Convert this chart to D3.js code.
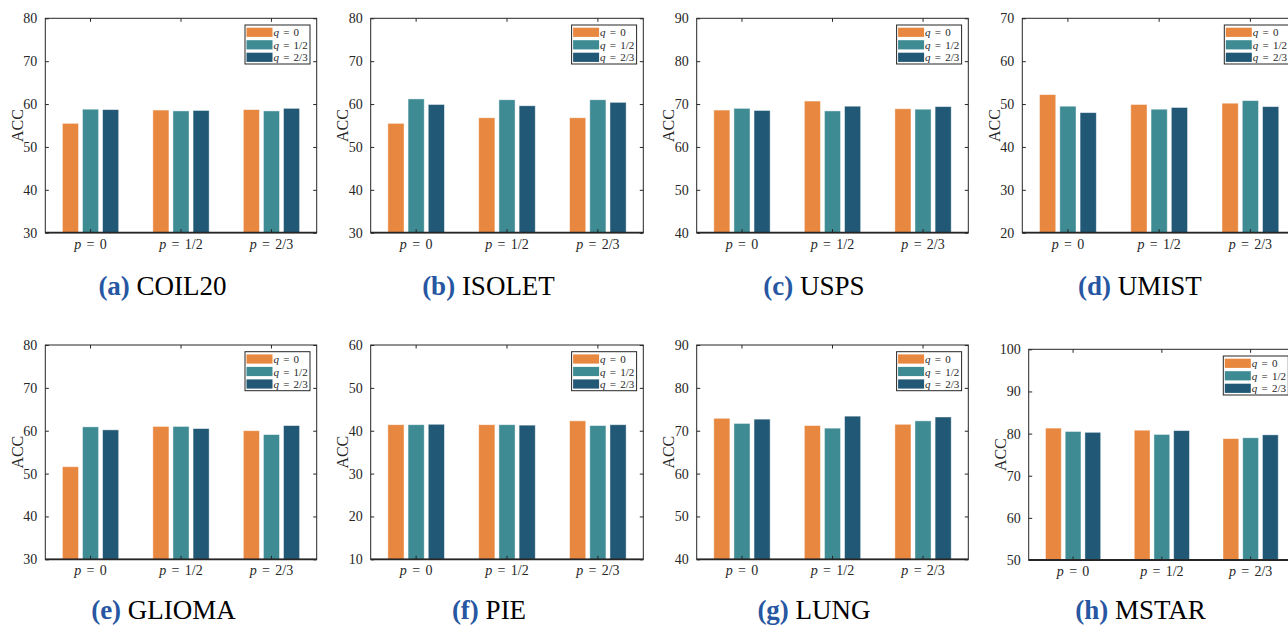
<!DOCTYPE html>
<html>
<head>
<meta charset="utf-8">
<script src="https://cdn.jsdelivr.net/npm/d3@7"></script>
<style>
  html, body { margin: 0; padding: 0; background: #fff; }
  svg { display: block; }
</style>
</head>
<body>
<svg id="fig" width="1288" height="625"></svg>
<script>
// Categories (p) and series (q)
const pLabels = ["0", "1/2", "2/3"];
const qLabels = ["0", "1/2", "2/3"];
const seriesColors = ["#E8873F", "#3E8B94", "#215876"];

// Dataset names and subfigure letters
const datasetNames = ["COIL20", "ISOLET", "USPS", "UMIST", "GLIOMA", "PIE", "LUNG", "MSTAR"];
const panelLetters = ["a", "b", "c", "d", "e", "f", "g", "h"];

// Y-axis ranges for each dataset
const yRanges = [[30, 80], [30, 80], [40, 90], [20, 70], [30, 80], [10, 60], [40, 90], [50, 100]];

// ACC values: one row per p, one column per q
const coil20 = [[55.5, 58.8, 58.7], [58.6, 58.4, 58.5], [58.7, 58.4, 59.0]];
const isolet = [[55.5, 61.2, 59.9], [56.8, 61.0, 59.6], [56.8, 61.0, 60.4]];
const usps   = [[68.6, 69.0, 68.5], [70.7, 68.4, 69.5], [68.9, 68.8, 69.4]];
const umist  = [[52.2, 49.5, 48.0], [49.9, 48.8, 49.2], [50.2, 50.8, 49.4]];
const glioma = [[51.6, 60.9, 60.2], [61.0, 61.0, 60.5], [60.0, 59.1, 61.2]];
const pie    = [[41.4, 41.4, 41.5], [41.4, 41.4, 41.3], [42.3, 41.2, 41.4]];
const lung   = [[72.9, 71.7, 72.7], [71.2, 70.6, 73.4], [71.5, 72.3, 73.2]];
const mstar  = [[81.3, 80.5, 80.3], [80.8, 79.8, 80.7], [78.8, 79.0, 79.7]];
const allValues = [coil20, isolet, usps, umist, glioma, pie, lung, mstar];

// Plot-frame placement for each subfigure (left, right, top, bottom, caption centre, caption baseline)
const frames = [
  { l: 45.3,   r: 316.7, t: 18.3,  b: 232.7, cx: 162.5,  cy: 295 },
  { l: 370.7,  r: 643.3, t: 18.3,  b: 232.7, cx: 488.5,  cy: 295 },
  { l: 696.7,  r: 968.3, t: 18.3,  b: 232.7, cx: 814,    cy: 295 },
  { l: 1022.3, r: 1296,  t: 18.3,  b: 232.7, cx: 1140,   cy: 295 },
  { l: 45.3,   r: 316.7, t: 345,   b: 559.3, cx: 163.5,  cy: 619 },
  { l: 370.7,  r: 643.3, t: 345,   b: 559.3, cx: 489,    cy: 619 },
  { l: 696.7,  r: 968.3, t: 345,   b: 559.3, cx: 814,    cy: 619 },
  { l: 1028.7, r: 1295,  t: 349.3, b: 560,   cx: 1140.5, cy: 619 }
];

const svg = d3.select("#fig");
const axisColor = "#262626";
const serif = "'Liberation Serif', 'Times New Roman', serif";

// Write "v = value" with an italic variable name
function mathLabel(sel, variable, value) {
  sel.append("tspan").attr("font-style", "italic").text(variable);
  sel.append("tspan").attr("dx", "0.38em").text("=");
  sel.append("tspan").attr("dx", "0.38em").text(value);
}

frames.forEach((f, i) => {
  const g = svg.append("g");
  const w = f.r - f.l;
  const values = allValues[i];

  const x0 = d3.scaleBand().domain(pLabels).range([f.l, f.r]).padding(0);
  const groupW = x0.bandwidth() * 0.622;
  const x1 = d3.scaleBand().domain(qLabels).range([-groupW / 2, groupW / 2]).paddingInner(0.2);
  const y = d3.scaleLinear().domain(yRanges[i]).range([f.b, f.t]);

  // Bars
  pLabels.forEach((p, pi) => {
    const cx = x0(p) + x0.bandwidth() / 2;
    g.selectAll(null)
      .data(values[pi])
      .enter().append("rect")
      .attr("x", (d, qi) => cx + x1(qLabels[qi]))
      .attr("y", d => y(d))
      .attr("width", x1.bandwidth())
      .attr("height", d => f.b - y(d))
      .attr("fill", (d, qi) => seriesColors[qi])
      .attr("stroke", "#ffffff")
      .attr("stroke-opacity", 0.55)
      .attr("stroke-width", 0.8);
  });

  // Left axis with inward ticks
  const yTicks = d3.range(yRanges[i][0], yRanges[i][1] + 0.1, 10);
  const left = g.append("g").attr("transform", `translate(${f.l},0)`)
    .call(d3.axisLeft(y).tickValues(yTicks).tickSizeInner(-3.5).tickSizeOuter(0).tickPadding(8));
  left.select(".domain").remove();
  left.selectAll("line").attr("stroke", axisColor);
  left.selectAll("text").attr("font-family", serif).attr("font-size", 14).attr("fill", axisColor);

  // Right mirror ticks
  const right = g.append("g").attr("transform", `translate(${f.r},0)`)
    .call(d3.axisRight(y).tickValues(yTicks).tickSizeInner(-3.5).tickSizeOuter(0).tickFormat(""));
  right.select(".domain").remove();
  right.selectAll("line").attr("stroke", axisColor);

  // Bottom axis with category labels
  const bottom = g.append("g").attr("transform", `translate(0,${f.b})`)
    .call(d3.axisBottom(x0).tickSizeInner(-3.5).tickSizeOuter(0).tickFormat(""));
  bottom.select(".domain").remove();
  bottom.selectAll("line").attr("stroke", axisColor);
  bottom.selectAll(".tick").each(function (p) {
    const t = d3.select(this).append("text")
      .attr("y", 16)
      .attr("text-anchor", "middle")
      .attr("font-family", serif)
      .attr("font-size", 14)
      .attr("fill", axisColor);
    mathLabel(t, "p", p);
  });

  // Top mirror ticks
  const top = g.append("g").attr("transform", `translate(0,${f.t})`)
    .call(d3.axisTop(x0).tickSizeInner(-3.5).tickSizeOuter(0).tickFormat(""));
  top.select(".domain").remove();
  top.selectAll("line").attr("stroke", axisColor);

  // Box frame
  g.append("rect")
    .attr("x", f.l).attr("y", f.t).attr("width", w).attr("height", f.b - f.t)
    .attr("fill", "none").attr("stroke", axisColor).attr("stroke-width", 1);
  g.append("line")
    .attr("x1", f.l).attr("x2", f.r).attr("y1", f.b).attr("y2", f.b)
    .attr("stroke", axisColor).attr("stroke-width", 1.8);

  // Y label
  g.append("text")
    .attr("transform", `translate(${f.l - 28},${(f.t + f.b) / 2}) rotate(-90)`)
    .attr("text-anchor", "middle")
    .attr("dominant-baseline", "central")
    .attr("font-family", serif)
    .attr("font-size", 16)
    .attr("fill", axisColor)
    .text("ACC");

  // Legend
  const lw = 65, lh = 39;
  const lx = f.r - 6.7 - lw, ly = f.t + 6.7;
  const leg = g.append("g");
  leg.append("rect")
    .attr("x", lx).attr("y", ly).attr("width", lw).attr("height", lh)
    .attr("fill", "#fff").attr("stroke", axisColor).attr("stroke-width", 1);
  qLabels.forEach((q, qi) => {
    const cy = ly + 7.3 + qi * 12.5;
    leg.append("rect")
      .attr("x", lx + 1.5).attr("y", cy - 4.6).attr("width", 26).attr("height", 9.2)
      .attr("fill", seriesColors[qi]);
    const t = leg.append("text")
      .attr("x", lx + 28.5).attr("y", cy)
      .attr("dominant-baseline", "central")
      .attr("font-family", serif)
      .attr("font-size", 11)
      .attr("fill", axisColor);
    mathLabel(t, "q", q);
  });

  // Caption
  const cap = g.append("text")
    .attr("x", f.cx).attr("y", f.cy)
    .attr("text-anchor", "middle")
    .attr("font-family", serif)
    .attr("font-size", 27);
  cap.append("tspan").attr("font-weight", "bold").attr("fill", "#2757a2").text(`(${panelLetters[i]})`);
  cap.append("tspan").attr("fill", "#000").text(" " + datasetNames[i]);
});
</script>
</body>
</html>
